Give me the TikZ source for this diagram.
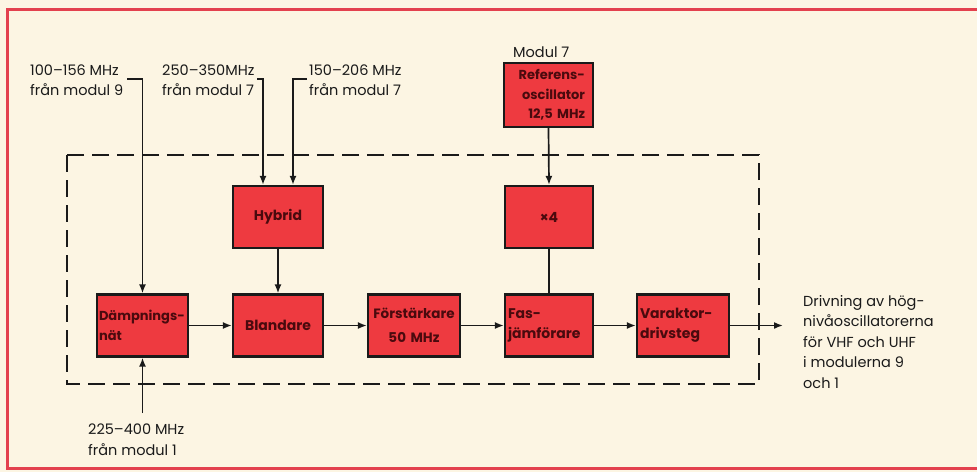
\documentclass[tikz,border=0pt]{standalone}
\usepackage{fontspec}
\setmainfont{Poppins}
\usetikzlibrary{arrows.meta}
\definecolor{paper}{HTML}{FCF5E3}
\definecolor{frame}{HTML}{E3414E}
\definecolor{boxred}{HTML}{EE3A40}
\definecolor{boxtext}{HTML}{4A0A0E}
\definecolor{ink}{HTML}{1A1A1A}
\tikzset{
  blk/.style={draw=ink, fill=boxred, line width=2.2pt, inner xsep=3pt, inner ysep=0pt,
    minimum height=62pt, text=boxtext, font=\fontsize{14}{20}\selectfont\bfseries},
  conn/.style={draw=ink, line width=1.7pt},
  arr/.style={conn, -{Latex[length=9pt,width=7pt]}},
  lbl/.style={inner sep=0pt, text=ink, align=left, font=\fontsize{14.5}{20.5}\selectfont},
}
\begin{document}
\begin{tikzpicture}[x=1pt,y=-1pt]
\useasboundingbox (0,0) rectangle (977,472);
\fill[paper] (0,0) rectangle (977,472);
\draw[frame, line width=3.5pt] (977,9.5) -- (7.5,9.5) -- (7.5,468.5) -- (977,468.5);
% dashed enclosure
\draw[ink, line width=1.6pt, dash pattern=on 17pt off 8pt] (67,155) rectangle (759,384);
% blocks
\node[blk, minimum width=90pt, text width=84pt, align=center] (hyb) at (278,217) {Hybrid};
\node[blk, minimum width=88pt, text width=82pt, align=center] (x4) at (549,217) {×4};
\node[blk, minimum width=89pt, minimum height=64pt, text width=73pt, inner xsep=8pt, align=right, font=\fontsize{13}{19.5}\selectfont\bfseries] (ref) at (548.5,95) {\mbox{Referens-}\\\mbox{oscillator}\\\mbox{12,5 MHz}};
\node[blk, minimum width=91pt, text width=87pt, inner xsep=2pt, align=left, font=\fontsize{13}{20}\selectfont\bfseries] (damp) at (142.5,325.5) {\mbox{Dämpnings-}\\nät};
\node[blk, minimum width=90pt, text width=84pt, align=center] (bland) at (278,325.5) {Blandare};
\node[blk, minimum width=92pt, text width=88pt, inner xsep=2pt, align=center, font=\fontsize{13.5}{24}\selectfont\bfseries] (fors) at (414,325.5) {\mbox{Förstärkare}\\50 MHz};
\node[blk, minimum width=88pt, text width=82pt, align=left] (fas) at (549,325.5) {\mbox{Fas-}\\\mbox{jämförare}};
\node[blk, minimum width=92pt, text width=86pt, align=left] (var) at (683,325.5) {\mbox{Varaktor-}\\drivsteg};
% labels
\node[lbl, anchor=north west] (t1) at (30,64.5) {100–156 MHz\\från modul 9};
\node[lbl, anchor=north west] (t2) at (162,64.5) {250–350MHz\\från modul 7};
\node[lbl, anchor=north west] (t3) at (309,64.5) {150–206 MHz\\från modul 7};
\node[lbl, anchor=south west] (t4) at (513,58) {Modul 7};
\node[lbl, anchor=north west] (t5) at (88,424) {225–400 MHz\\från modul 1};
\node[lbl, anchor=north west] (t6) at (803,295) {Drivning av hög-\\nivåoscillatorerna\\för VHF och UHF\\i modulerna 9\\och 1};
% free ends
\coordinate (c1) at (127,79);
\coordinate (c2) at (257,79);
\coordinate (c3) at (307,79);
\coordinate (c4) at (142.5,413);
\coordinate (cout) at (783,325.5);
% connectors
\draw[arr] (c1) -| (damp.north);
\draw[arr] (c2) -| ([xshift=-15pt]hyb.north);
\draw[arr] (c3) -| ([xshift=15pt]hyb.north);
\draw[arr] (c4) -- (damp.south);
\draw[arr] (ref.south) -- (x4.north);
\draw[conn] (x4.south) -- (fas.north);
\draw[arr] (hyb.south) -- (bland.north);
\draw[arr] (damp.east) -- (bland.west);
\draw[arr] (bland.east) -- (fors.west);
\draw[arr] (fors.east) -- (fas.west);
\draw[arr] (fas.east) -- (var.west);
\draw[arr] (var.east) -- (cout);
\end{tikzpicture}
\end{document}
